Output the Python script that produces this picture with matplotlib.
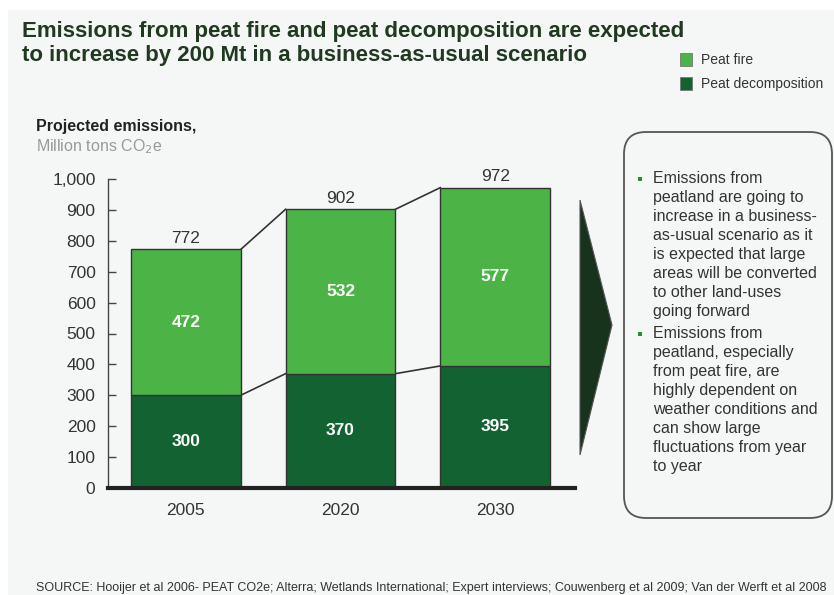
import matplotlib.pyplot as plt
from matplotlib.patches import Rectangle, Polygon, FancyBboxPatch

years = ["2005", "2020", "2030"]
decomposition = [300, 370, 395]
peat_fire = [472, 532, 577]
totals = [772, 902, 972]

bullets = [
    "Emissions from\npeatland are going to\nincrease in a business-\nas-usual scenario as it\n"
    "is expected that large\nareas will be converted\nto other land-uses\ngoing forward",
    "Emissions from\npeatland, especially\nfrom peat fire, are\nhighly dependent on\n"
    "weather conditions and\ncan show large\nfluctuations from year\nto year",
]

LIGHT = "#4cb447"
DARK = "#136332"
BG = "#f5f7f6"
W, H = 834, 595

plt.rcParams['font.family'] = ['Liberation Sans', 'DejaVu Sans']

fig = plt.figure(figsize=(W / 100, H / 100), dpi=100, facecolor="white")

# overlay in pixel coords for the decoration
ov = fig.add_axes([0, 0, 1, 1])
ov.set_xlim(0, W)
ov.set_ylim(H, 0)
ov.axis("off")
ov.add_patch(Rectangle((8, 10), W, H, facecolor=BG, edgecolor="none", zorder=0))

ov.text(22, 32, "Emissions from peat fire and peat decomposition are expected",
        fontsize=16, fontweight="bold", color="#1f3a1f", va="center")
ov.text(22, 56, "to increase by 200 Mt in a business-as-usual scenario",
        fontsize=16, fontweight="bold", color="#1f3a1f", va="center")

# legend
ov.add_patch(Rectangle((680, 53), 12, 13, facecolor=LIGHT, edgecolor="#777", lw=0.6))
ov.add_patch(Rectangle((680, 77), 12, 13, facecolor=DARK, edgecolor="#777", lw=0.6))
ov.text(701, 60, "Peat fire", fontsize=10, color="#333", va="center")
ov.text(701, 84, "Peat decomposition", fontsize=10, color="#333", va="center")

ov.text(36, 127, "Projected emissions,", fontsize=11.5, fontweight="bold", color="#222",
        va="center")
ov.text(36, 147, "Million tons CO$_2$e", fontsize=11.5, color="#999", va="center")

# arrow
ov.add_patch(Polygon([(580, 200), (612, 325), (580, 455)], closed=True,
                     facecolor="#17331b", edgecolor="#555", lw=0.8))

# text box
ov.add_patch(FancyBboxPatch((624, 132), 208, 386, boxstyle="round,pad=0,rounding_size=22",
                            facecolor=BG, edgecolor="#555", lw=1.3))
y0 = 180
step = 19.4
for txt in bullets:
    ov.add_patch(Rectangle((638, y0 - 3), 4, 4, facecolor="#2e8b3e", edgecolor="none"))
    ov.text(653, y0 - 9, txt, fontsize=11.5, color="#333", va="top", linespacing=1.33)
    y0 += step * (txt.count("\n") + 1)

ov.text(36, 588, "SOURCE: Hooijer et al 2006- PEAT CO2e; Alterra; Wetlands International; "
        "Expert interviews; Couwenberg et al 2009; Van der Werft et al 2008",
        fontsize=9, color="#333", va="center")

# chart
left, right, top, bottom = 108, 575, 179, 488
ax = fig.add_axes([left / W, 1 - bottom / H, (right - left) / W, (bottom - top) / H])
ax.patch.set_alpha(0)
x = range(len(years))
width = 0.71
ax.bar(x, decomposition, width, color=DARK, edgecolor="#333", lw=1, zorder=3)
ax.bar(x, peat_fire, width, bottom=decomposition, color=LIGHT, edgecolor="#333", lw=1, zorder=3)

for i in range(len(years) - 1):
    for lev in (decomposition, totals):
        ax.plot([i + width / 2, i + 1 - width / 2], [lev[i], lev[i + 1]],
                color="#333", lw=1.2, zorder=2)

for i in x:
    ax.text(i, decomposition[i] / 2, str(decomposition[i]), ha="center", va="center",
            color="white", fontweight="bold", fontsize=12.5, zorder=4)
    ax.text(i, decomposition[i] + peat_fire[i] / 2, str(peat_fire[i]), ha="center",
            va="center", color="white", fontweight="bold", fontsize=12.5, zorder=4)
    ax.text(i, totals[i] + 12, str(totals[i]), ha="center", va="bottom",
            color="#333", fontsize=12.5, zorder=4)

ax.set_xlim(-0.503, 2.516)
ax.set_ylim(0, 1000)
ax.set_yticks(range(0, 1001, 100))
ax.set_yticklabels([f"{v:,}" for v in range(0, 1001, 100)])
ax.set_xticks(list(x))
ax.set_xticklabels(years)
ax.tick_params(axis="y", direction="in", length=6, width=1, colors="#444",
               labelcolor="#333", labelsize=12.5, pad=9)
ax.tick_params(axis="x", length=0, labelcolor="#333", labelsize=12.5, pad=11)
for s in ("top", "right"):
    ax.spines[s].set_visible(False)
ax.spines["left"].set_color("#444")
ax.spines["left"].set_linewidth(1)
ax.spines["bottom"].set_color("#222")
ax.spines["bottom"].set_linewidth(3)
ax.spines["bottom"].set_zorder(5)

fig.savefig("out.png", dpi=100, facecolor="white")
